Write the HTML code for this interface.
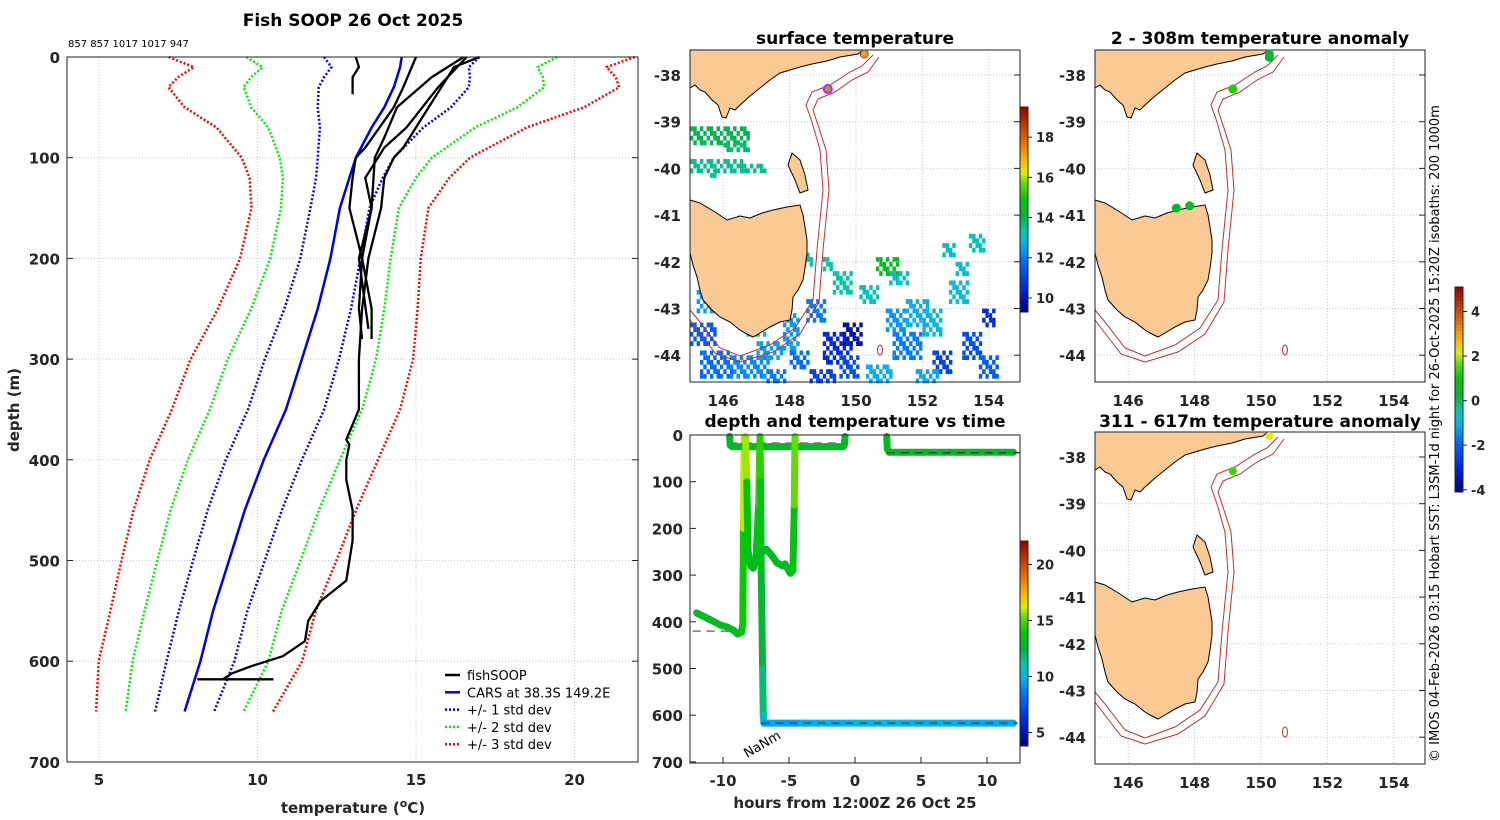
<!DOCTYPE html>
<html><head><meta charset="utf-8"><style>
html,body{margin:0;padding:0;background:#fff}
svg{display:block}
text{font-family:"DejaVu Sans","Liberation Sans",sans-serif}
.tk{font-size:15px;font-weight:bold;fill:#262626}
.ttl{font-size:17px;font-weight:bold;fill:#000}
</style></head><body>
<svg id="fig" width="1500" height="820" viewBox="0 0 1500 820" xmlns="http://www.w3.org/2000/svg">
<g id="profile"></g>
<g id="maps"></g>
<g id="tpanel"></g>
<text x="353" y="26" text-anchor="middle" class="ttl">Fish SOOP 26 Oct 2025</text>
<text x="68" y="47" font-size="10">857 857 1017 1017 947</text>
<text x="855" y="44" text-anchor="middle" class="ttl">surface temperature</text>
<text x="1260" y="44" text-anchor="middle" class="ttl">2 - 308m temperature anomaly</text>
<text x="1260" y="427" text-anchor="middle" class="ttl">311 - 617m temperature anomaly</text>
<text x="855" y="427" text-anchor="middle" class="ttl">depth and temperature vs time</text>
<text transform="translate(1439,762) rotate(-90)" font-size="13">© IMOS 04-Feb-2026 03:15 Hobart SST: L3SM-1d night for 26-Oct-2025 15:20Z isobaths: 200  1000m</text>
</svg>
<script>
// ---------- profile data ----------
const carsDepth=[0,10,20,30,50,70,100,120,150,200,250,300,350,400,450,500,550,600,650];
const carsMean=[14.55,14.5,14.4,14.3,14.0,13.6,13.1,12.9,12.6,12.3,11.9,11.4,10.9,10.2,9.6,9.1,8.6,8.2,7.7];
const carsSd=[2.45,2.17,2.3,2.37,2.1,1.63,1.2,1.05,0.93,0.95,1.05,1.17,1.2,1.2,1.17,1.13,1.08,1.07,0.93];
const cast1Depth=[0,10,30,60,90,100,120,150,200,250,300,350,380,385,400,420,450,480,520,540,560,580,595,605,612,618];
const cast1Temp=[17.0,16.2,15.8,15.2,14.6,14.3,14.0,13.9,13.5,13.3,13.2,13.2,12.8,12.9,12.8,12.8,13.0,13.0,12.8,12.0,11.6,11.5,10.8,9.8,9.2,8.9];
const cast2Depth=[0,30,50,90,100,120,150,200,250,280];
const cast2Temp=[15.0,14.6,14.3,13.4,13.1,13.0,12.9,13.3,13.2,13.3];
const cast3Depth=[0,20,50,80,100,150,200,250,280];
const cast3Temp=[16.5,15.5,14.4,14.0,13.7,13.6,13.3,13.6,13.6];
const cast4Depth=[0,10,20,37];
const cast4Temp=[13.1,13.2,13.0,13.0];
const cast5Depth=[0,30,70,90,120,150,200,270];
const cast5Temp=[16.6,15.7,14.7,14.0,13.4,13.6,13.2,13.5];
const bottomDepth=[618,618];
const bottomTemp=[8.1,10.5];
const tempTicks=[5,10,15,20];
const depthTicks=[0,100,200,300,400,500,600,700];

// ---------- time panel data ----------
const trkA_h=[-12.0,-11.0,-10.2,-9.7,-9.2,-8.9,-8.6,-8.5,-8.45,-8.4];
const trkA_d=[381,395,407,411,418,426,422,405,200,5];
const trkA_t=[13,13,13,13,13,13,13,13.5,14.5,17.5];
const trkB_h=[-9.5,-9.45,-9.3,-7,-5,-3,-0.9,-0.8,-0.75];
const trkB_d=[3,22,25,25,25,25,25,20,3];
const trkB_t=[13,13,13,13,13,13,13,13,13];
const trkC_h=[-8.3,-8.2,-8.1,-7.9,-7.7,-7.5,-7.3,-7.2];
const trkC_d=[3,100,250,280,285,265,150,5];
const trkC_t=[17.5,14,13,13,13,13,14,15.5];
const trkD_h=[-7.2,-7.15,-7.1,-7.0,-6.95,-6.9];
const trkD_d=[3,100,300,500,600,617];
const trkD_t=[15.5,13.5,13,12.5,11,10];
const trkE_h=[-7.4,-7.0,-6.7,-6.3,-5.9,-5.5,-5.3,-4.9,-4.7,-4.6,-4.55];
const trkE_d=[261,250,245,258,274,280,276,296,290,150,3];
const trkE_t=[13,13,13,13,13,13,13,13,13,14,16.5];
const trkF_h=[-6.9,-4,0,4,8,12];
const trkF_d=[617,617,617,617,617,617];
const trkF_t=[9.5,9.5,10,10,9.8,9.5];
const trkG_h=[2.4,2.45,2.6,6,9,12];
const trkG_d=[3,30,37,37,37,37];
const trkG_t=[13,13,13,13,13,13];
const refH=[[-9.5,-0.8],[2.4,12.5],[-12.3,-8.5],[-7.1,12.3]];
const refD=[17,38,420,617];
const hourTicks=[-10,-5,0,5,10];
const tDepthTicks=[0,100,200,300,400,500,600,700];

// ---------- map data ----------
const lonTicks=[146,148,150,152,154];
const latTicks=[-38,-39,-40,-41,-42,-43,-44];
const sstLon=[145.0,146.0,145.0,146.5,145.6,145.0,145.3,146.2,147.0,147.8,148.5,149.0,149.6,150.1,150.6,151.0,149.5,150.3,151.1,152.0,152.3,153.0,153.2,153.8,153.7,148.6,151.8,149.0,152.6,148.4,147.3,145.2,146.6,149.3,151.5,152.8,153.4,150.9,148.0];
const sstLat=[-39.1,-39.45,-39.8,-39.9,-40.1,-43.3,-43.9,-44.0,-43.7,-43.1,-42.8,-43.5,-43.3,-42.5,-41.9,-42.2,-44.0,-44.2,-43.5,-43.0,-43.9,-42.0,-43.5,-43.0,-44.0,-44.3,-44.3,-41.9,-41.6,-41.8,-44.3,-42.6,-43.2,-42.2,-42.8,-42.4,-41.4,-43.0,-43.9];
const sstW=[1.8,0.8,1.6,0.8,0.2,0.8,1.0,1.2,0.8,0.5,0.6,0.9,0.6,0.6,0.7,0.6,0.6,0.8,0.9,0.6,0.6,0.4,0.6,0.4,0.6,0.8,0.7,0.3,0.4,0.3,0.6,0.6,0.7,0.6,0.7,0.6,0.5,0.6,0.6];
const sstH=[0.35,0.15,0.3,0.15,0.1,0.5,0.6,0.5,0.4,0.8,0.5,0.7,0.5,0.4,0.4,0.3,0.5,0.4,0.6,0.6,0.5,0.3,0.6,0.4,0.5,0.3,0.3,0.3,0.3,0.3,0.3,0.5,0.4,0.5,0.6,0.5,0.4,0.5,0.4];
const sstVal=[14,13.8,13.6,13.6,13.5,11.5,11.8,12.2,12.5,12.4,12.0,10.5,9.8,13.2,14.5,13.0,11.2,12.6,12.0,12.8,11.0,13.0,11.2,10.5,11.5,11.0,12.5,13.5,13.0,13.5,12.0,12.4,12.8,13.4,12.6,12.9,13.2,12.3,11.8];
const anom1Lon=[150.25,150.25,149.15,147.45,147.85];
const anom1Lat=[-37.55,-37.62,-38.3,-40.85,-40.8];
const anom1Val=[0.3,0.3,1.2,0.4,0.5];
const anom2Lon=[150.25,149.15];
const anom2Lat=[-37.55,-38.3];
const anom2Val=[2.2,1.4];

const NS='http://www.w3.org/2000/svg';
function mk(tag,attrs,parent){const e=document.createElementNS(NS,tag);for(const k in attrs)e.setAttribute(k,attrs[k]);parent.appendChild(e);return e;}
const CM=[[0,[0,0,128]],[0.12,[0,40,220]],[0.25,[0,110,255]],[0.33,[0,180,240]],[0.4,[0,200,170]],[0.47,[0,180,60]],[0.55,[0,200,0]],[0.62,[80,220,0]],[0.68,[220,240,0]],[0.74,[255,180,0]],[0.84,[230,100,0]],[1,[150,0,0]]];
function jet(t){t=Math.max(0,Math.min(1,t));for(let i=0;i<CM.length-1;i++){const a=CM[i],b=CM[i+1];if(t<=b[0]){const f=(t-a[0])/(b[0]-a[0]);return 'rgb('+a[1].map((v,k)=>Math.round(v+(b[1][k]-v)*f)).join(',')+')';}}return 'rgb(150,0,0)';}

// ================= PROFILE =================
const P=document.getElementById('profile');
const px=T=>99+(T-5)*31.7, py=d=>57+d*1.007;
tempTicks.forEach(T=>{
  const l=mk('line',{x1:px(T),x2:px(T),y1:57,y2:762,stroke:'#c5c9e6','stroke-dasharray':'1 2'},P);
  
  const t=mk('text',{x:px(T),y:785,'text-anchor':'middle',class:'tk'},P);t.textContent=T;
  
});
depthTicks.forEach(d=>{
  if(d>0&&d<700){const l=mk('line',{x1:67,x2:638,y1:py(d),y2:py(d),stroke:'#c5c9e6','stroke-dasharray':'1 2'},P);
  
  mk('line',{x1:67,x2:73,y1:py(d),y2:py(d),stroke:'#222'},P);mk('line',{x1:632,x2:638,y1:py(d),y2:py(d),stroke:'#222'},P);}
  const t=mk('text',{x:60,y:py(d)+6,'text-anchor':'end',class:'tk'},P);t.textContent=d;
  
});
function pline(D,T,attrs,name){const pts=D.map((d,i)=>px(T[i]).toFixed(1)+','+py(d).toFixed(1)).join(' ');
  const e=mk('polyline',Object.assign({points:pts,fill:'none','stroke-linejoin':'round'},attrs),P);
  }
[[3,'#ff0000'],[2,'#00ee00'],[1,'#0000ff']].forEach(([k,c])=>{
  pline(carsDepth,carsMean.map((m,i)=>m-k*carsSd[i]),{stroke:c,'stroke-width':2.5,'stroke-dasharray':'2 2'},'cars-minus-'+k+'sd');
  pline(carsDepth,carsMean.map((m,i)=>m+k*carsSd[i]),{stroke:c,'stroke-width':2.5,'stroke-dasharray':'2 2'},'cars-plus-'+k+'sd');
});
pline(carsDepth,carsMean,{stroke:'#0000ee','stroke-width':2.5},'cars-mean-line');
[[cast1Depth,cast1Temp],[cast2Depth,cast2Temp],[cast3Depth,cast3Temp],[cast4Depth,cast4Temp],[cast5Depth,cast5Temp],[bottomDepth,bottomTemp]].forEach((c,i)=>pline(c[0],c[1],{stroke:'#000','stroke-width':2.3},'fishsoop-cast-'+(i+1)));
const ax=mk('rect',{x:67,y:57,width:571,height:705,fill:'none',stroke:'#222'},P);

let t=mk('text',{x:353,y:813,'text-anchor':'middle',class:'tk','font-size':'17'},P);
t.innerHTML='temperature (<tspan baseline-shift="super" font-size="11">o</tspan>C)';

t=mk('text',{transform:'translate(19,410) rotate(-90)','text-anchor':'middle',class:'tk','font-size':'17'},P);t.textContent='depth (m)';

const legItems=[['fishSOOP','#000',''],['CARS at 38.3S 149.2E','#0000ee',''],['+/- 1 std dev','#0000ff','2 2'],['+/- 2 std dev','#00ee00','2 2'],['+/- 3 std dev','#ff0000','2 2']];
legItems.forEach((it,i)=>{const y=675+i*17.3;
  const g=mk('g',{},P);
  mk('line',{x1:445,x2:460,y1:y,y2:y,stroke:it[1],'stroke-width':2.5,'stroke-dasharray':it[2]},g);
  const tx=mk('text',{x:467,y:y+5,'font-size':'13'},g);tx.textContent=it[0];});

// ================= MAPS =================
const M=document.getElementById('maps');
const mx=lon=>690+(lon-145)*33.2, my=lat=>75+(-38-lat)*46.7;
const vicPoly='690,50 863,50 858,54 840,57 827,61 812,64 800,67 790,70 780,73 770,80 760,88 750,96 740,105 735,110 730,108 726,118 722,117 718,105 712,100 705,92 700,90 695,85 690,88';
const tasPoly='690,200 700,203 715,212 727,220 740,216 750,218 762,213 773,210 787,207 800,205 803,215 805,227 807,240 807,253 805,268 803,280 798,290 793,297 792,310 790,320 780,322 770,327 760,333 753,337 745,333 740,330 730,322 720,317 712,310 703,300 700,290 697,277 693,265 690,253';
const flPoly='792,153 800,160 805,175 808,190 800,193 795,180 788,165';
const iso1='873,55 862,66 850,72 830,85 812,92 806,105 812,122 820,150 823,190 817,250 813,300 795,328 770,345 740,356 720,348 700,322 690,310';
const iso2='879,57 868,72 852,80 835,92 818,99 813,110 818,125 826,150 829,190 823,250 819,302 800,334 773,352 740,362 716,354 696,328 690,320';
function drawMap(dx,dy,kind,name){
  const g=mk('g',{transform:`translate(${dx},${dy})`},M);
  mk('rect',{x:690,y:50,width:330,height:332,fill:'#fff'},g);
  if(kind==='sst'){sstLon.forEach((lo,k)=>{
    const pg=mk('g',{fill:jet((sstVal[k]-9.3)/10.2)},g);
    
    const nx=Math.max(1,Math.round(sstW[k]*10)),ny=Math.max(1,Math.round(sstH[k]*10));
    for(let i=0;i<nx;i++)for(let j=0;j<ny;j++){if(((i*7+j*13+k*5)%5)<3){
      const x=mx(lo)+i*3.32,y=my(sstLat[k])+j*4.67;if(x<1020&&y<382)mk('rect',{x:x,y:y,width:3.4,height:4.8},pg);}}
  });}
  lonTicks.forEach(lo=>mk('line',{x1:mx(lo),x2:mx(lo),y1:50,y2:382,stroke:'#c5c9e6','stroke-dasharray':'1 2'},g));
  latTicks.forEach(la=>mk('line',{x1:690,x2:1020,y1:my(la),y2:my(la),stroke:'#c5c9e6','stroke-dasharray':'1 2'},g));
  [vicPoly,tasPoly,flPoly].forEach(p=>{const e=mk('polygon',{points:p,fill:'#fbc994',stroke:'#000','stroke-width':1},g);});
  [iso1,iso2].forEach(p=>{const e=mk('polyline',{points:p,fill:'none',stroke:'#c03030','stroke-width':1},g);});
  mk('ellipse',{cx:880,cy:350,rx:2.5,ry:5,fill:'none',stroke:'#c03030'},g);
  mk('rect',{x:690,y:50,width:330,height:332,fill:'none',stroke:'#222'},g);
  lonTicks.forEach(lo=>{const tx=mk('text',{x:mx(lo),y:406,'text-anchor':'middle',class:'tk'},g);tx.textContent=lo;
    });
  latTicks.forEach(la=>{const tx=mk('text',{x:681,y:my(la)+6,'text-anchor':'end',class:'tk'},g);tx.textContent=la;
    
    mk('line',{x1:1014,x2:1020,y1:my(la),y2:my(la),stroke:'#222'},g);});
  return g;
}
const g1=drawMap(0,0,'sst','sst-map');
let d=mk('circle',{cx:mx(150.25),cy:my(-37.55),r:4,fill:'#f59a1a',stroke:'#555'},g1);
d=mk('circle',{cx:mx(149.15),cy:my(-38.3),r:4,fill:'#55cc22',stroke:'#ff00ff','stroke-width':2},g1);
const g2=drawMap(405,0,'a1','anomaly-map-shallow');
anom1Lon.forEach((lo,i)=>{const c=mk('circle',{cx:mx(lo),cy:my(anom1Lat[i]),r:4.5,fill:jet((anom1Val[i]+4.1)/9.2)},g2);});
const g3=drawMap(405,382,'a2','anomaly-map-deep');
anom2Lon.forEach((lo,i)=>{const c=mk('circle',{cx:mx(lo),cy:my(anom2Lat[i]),r:4,fill:jet((anom2Val[i]+4.1)/9.2)},g3);});

function colorbar(x,y0,y1,vmin,vmax,ticks,name){
  const g=mk('g',{},M);
  const n=60,h=(y1-y0)/n;
  for(let i=0;i<n;i++)mk('rect',{x:x,y:y0+i*h,width:8,height:h+0.5,fill:jet(1-(i+0.5)/n)},g);
  mk('rect',{x:x,y:y0,width:8,height:y1-y0,fill:'none',stroke:'#222'},g);
  ticks.forEach(v=>{const y=y1-(v-vmin)/(vmax-vmin)*(y1-y0);mk('line',{x1:x+8,x2:x+12,y1:y,y2:y,stroke:'#222'},g);
    const tx=mk('text',{x:x+16,y:y+5,'font-size':'13','font-weight':'bold',fill:'#262626'},g);tx.textContent=v;});
}
colorbar(1020,107,312,9.3,19.5,[10,12,14,16,18],'sst-colorbar');
colorbar(1020,541,746,3.8,22.1,[5,10,15,20],'time-colorbar');
colorbar(1455,287,492,-4.1,5.1,[-4,-2,0,2,4],'anomaly-colorbar');

// ================= TIME PANEL =================
const TP=document.getElementById('tpanel');
const hx=h=>855+h*13.2, dy=d=>435+d*0.467;
mk('rect',{x:690,y:435,width:330,height:328,fill:'#fff'},TP);
refD.forEach((dd,i)=>{const l=mk('line',{x1:hx(refH[i][0]),x2:hx(refH[i][1]),y1:dy(dd),y2:dy(dd),stroke:'#777','stroke-width':1.5,'stroke-dasharray':'8 6'},TP);
  });
[[trkA_h,trkA_d,trkA_t],[trkB_h,trkB_d,trkB_t],[trkC_h,trkC_d,trkC_t],[trkD_h,trkD_d,trkD_t],[trkE_h,trkE_d,trkE_t],[trkF_h,trkF_d,trkF_t],[trkG_h,trkG_d,trkG_t]].forEach((tr,k)=>{
  const g=mk('g',{},TP);
  for(let i=0;i<tr[0].length-1;i++){mk('line',{x1:hx(tr[0][i]),y1:dy(tr[1][i]),x2:hx(tr[0][i+1]),y2:dy(tr[1][i+1]),stroke:jet(((tr[2][i]+tr[2][i+1])/2-3.8)/18.3),'stroke-width':7,'stroke-linecap':'round'},g);}
});
refD.forEach((dd,i)=>{if(i%2)mk('line',{x1:hx(refH[i][0]),x2:hx(refH[i][1]),y1:dy(dd),y2:dy(dd),stroke:'#222','stroke-width':1,'stroke-dasharray':'8 6'},TP);});
mk('rect',{x:690,y:435,width:330,height:328,fill:'none',stroke:'#222'},TP);
hourTicks.forEach(h=>{const tx=mk('text',{x:hx(h),y:786,'text-anchor':'middle',class:'tk'},TP);tx.textContent=h;
  
  mk('line',{x1:hx(h),x2:hx(h),y1:757,y2:763,stroke:'#222'},TP);});
tDepthTicks.forEach(v=>{const tx=mk('text',{x:683,y:dy(v)+6,'text-anchor':'end',class:'tk'},TP);tx.textContent=v;
  
  mk('line',{x1:690,x2:696,y1:dy(v),y2:dy(v),stroke:'#222'},TP);});
t=mk('text',{x:855,y:808,'text-anchor':'middle',class:'tk','font-size':'17'},TP);t.textContent='hours from 12:00Z 26 Oct 25';

t=mk('text',{transform:'translate(747,758) rotate(-30)','font-size':'13'},TP);t.textContent='NaNm';

</script>
</body></html>
